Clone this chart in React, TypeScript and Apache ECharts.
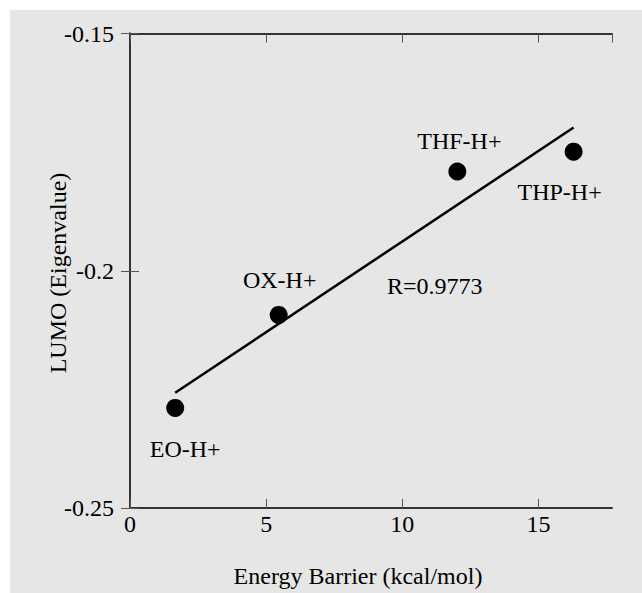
import React, { useEffect, useRef } from "react";
import * as echarts from "echarts";

const pointNames = ["EO-H+", "OX-H+", "THF-H+", "THP-H+"];
const energyBarrier = [1.66, 5.46, 12.02, 16.29];
const lumo = [-0.2289, -0.2093, -0.1791, -0.1749];
const fitX = [1.66, 16.29];
const fitY = [-0.2257, -0.1698];
const labelOffsets: [number, number][] = [
  [10, 41],
  [1, -35],
  [2, -31],
  [-14, 40],
];
const rText = "R=0.9773";
const yTitle = "LUMO (Eigenvalue)";
const xTitle = "Energy Barrier (kcal/mol)";
const xTicks = [0, 5, 10, 15];
const yTicks = [-0.25, -0.2, -0.15];

const FONT = "'Liberation Serif', 'Times New Roman', serif";
const BG = "#e6e6e6";
const INK = "#000";

export default function App() {
  const ref = useRef<HTMLDivElement>(null);
  useEffect(() => {
    if (!ref.current) return;
    const chart = echarts.init(ref.current, undefined, { renderer: "svg" });
    const axisLine = { show: true, lineStyle: { color: "#333", width: 2 } };
    const tick = { show: true, inside: true, length: 9, lineStyle: { color: "#555", width: 1 } };
    const xFmt = (v: number) => (xTicks.includes(v) ? String(v) : "");
    const yFmt = (v: number) => {
      const m = yTicks.find((t) => Math.abs(t - v) < 1e-9);
      return m === undefined ? "" : String(m);
    };
    chart.setOption({
      animation: false,
      backgroundColor: "#ffffff",
      graphic: [
        { type: "rect", z: -10, shape: { x: 10, y: 10, width: 632, height: 583 }, style: { fill: BG } },
        {
          type: "text",
          x: 434.7,
          y: 286,
          style: { text: rText, font: `24px ${FONT}`, fill: INK, align: "center", verticalAlign: "middle" },
        },
        {
          type: "text",
          x: 58,
          y: 273,
          rotation: Math.PI / 2,
          style: { text: yTitle, font: `24px ${FONT}`, fill: INK, align: "center", verticalAlign: "middle" },
        },
      ],
      grid: { left: 130, top: 33.5, right: 30, bottom: 71, show: false },
      xAxis: [
        {
          type: "value",
          min: 0,
          max: 17.7,
          interval: 5,
          position: "bottom",
          name: xTitle,
          nameLocation: "middle",
          nameGap: 56,
          nameTextStyle: { fontFamily: FONT, fontSize: 24, color: INK, padding: [0, 26, 0, 0] },
          axisLine,
          axisTick: tick,
          axisLabel: { fontFamily: FONT, fontSize: 24, color: INK, margin: 4, formatter: xFmt, showMaxLabel: false },
          splitLine: { show: false },
        },
        {
          type: "value",
          min: 0,
          max: 17.7,
          interval: 5,
          position: "top",
          axisLine,
          axisTick: tick,
          axisLabel: { show: false },
          splitLine: { show: false },
        },
      ],
      yAxis: [
        {
          type: "value",
          min: -0.25,
          max: -0.15,
          interval: 0.05,
          position: "left",
          axisLine,
          axisTick: tick,
          axisLabel: { fontFamily: FONT, fontSize: 24, color: INK, margin: 16, formatter: yFmt },
          splitLine: { show: false },
        },
        {
          type: "value",
          min: -0.25,
          max: -0.15,
          interval: 0.05,
          position: "right",
          axisLine,
          axisTick: tick,
          axisLabel: { show: false },
          splitLine: { show: false },
        },
      ],
      series: [
        {
          type: "line",
          data: fitX.map((x, i) => [x, fitY[i]]),
          showSymbol: false,
          symbol: "none",
          lineStyle: { color: "#000", width: 2.5 },
          z: 2,
        },
        {
          type: "scatter",
          symbol: "circle",
          symbolSize: 18,
          itemStyle: { color: "#000", opacity: 1 },
          z: 3,
          data: energyBarrier.map((x, i) => ({
            value: [x, lumo[i]],
            name: pointNames[i],
            label: {
              show: true,
              position: "inside",
              offset: labelOffsets[i],
              formatter: pointNames[i],
              fontFamily: FONT,
              fontSize: 24,
              color: INK,
              textBorderWidth: 0,
            },
          })),
        },
      ],
    });
    return () => chart.dispose();
  }, []);
  return (
    <div
      ref={ref}
      style={{ position: "fixed", left: 0, top: 0, width: 642, height: 593 }}
    />
  );
}
